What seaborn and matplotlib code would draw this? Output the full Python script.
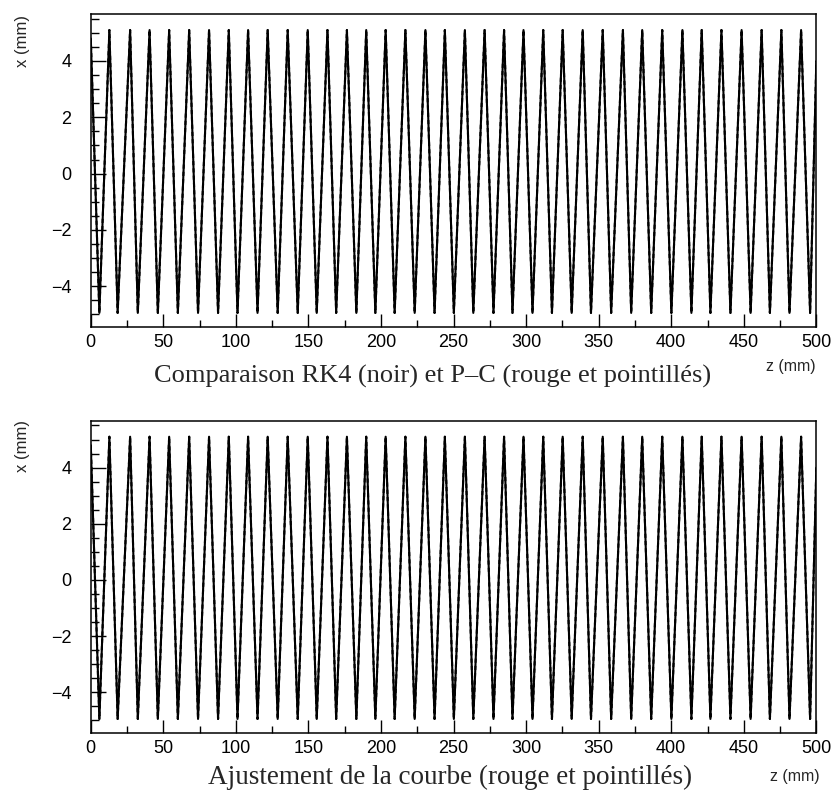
import numpy as np
import pandas as pd
import seaborn as sns
import matplotlib
matplotlib.use("Agg")
import matplotlib.pyplot as plt
from matplotlib.ticker import MultipleLocator

# extrema (z in mm, x in mm)
z_peaks = [12.8, 27.1, 40.5, 54.0, 67.8, 81.5, 95.1, 108.4, 121.9, 135.7, 149.5, 163.1,
           176.5, 189.8, 203.2, 216.8, 230.6, 244.0, 257.8, 271.4, 284.8, 298.2, 311.8, 325.2,
           339.0, 352.8, 366.7, 380.0, 393.8, 407.7, 421.0, 434.6, 448.5, 462.3, 475.9, 489.5]
z_troughs = [5.9, 18.5, 32.4, 46.2, 60.0, 73.9, 87.7, 101.1, 114.9, 128.8, 142.6, 155.7,
             169.1, 183.0, 196.1, 209.4, 223.2, 236.9, 250.2, 263.6, 277.5, 290.6, 304.4, 317.8,
             331.4, 344.7, 358.6, 372.4, 386.2, 400.1, 413.9, 427.0, 440.8, 454.7, 468.0, 481.5, 495.7]
x_peak = 5.1
x_trough = -4.95
z_ends = [0.0, 500.0]
x_ends = [4.8, 4.0]

#build the curve
z = np.array(z_ends + z_peaks + z_troughs)
x = np.array(x_ends + [x_peak] * len(z_peaks) + [x_trough] * len(z_troughs))
df = pd.DataFrame({"z": z, "x": x}).sort_values("z").reset_index(drop=True)

sns.set_style("ticks")
plt.rcParams["font.family"] = ["Liberation Sans", "DejaVu Sans"]

fig = plt.figure(figsize=(8.33, 7.95), dpi=100)
ax1 = fig.add_axes([0.109, 0.5887, 0.871, 0.3937])
ax2 = fig.add_axes([0.109, 0.078, 0.871, 0.3928])

for ax in [ax1, ax2]:
    sns.lineplot(data=df, x="z", y="x", ax=ax, color="black", lw=1.5, sort=False)
    sns.lineplot(data=df, x="z", y="x", ax=ax, color="black", lw=1.5, sort=False,
                 linestyle=(0, (2, 1.5)))
    ax.set_xlim(0, 500)
    ax.set_ylim(-5.45, 5.67)
    ax.set_xlabel("")
    ax.set_ylabel("")
    ax.xaxis.set_major_locator(MultipleLocator(50))
    ax.xaxis.set_minor_locator(MultipleLocator(25))
    ax.yaxis.set_major_locator(MultipleLocator(2))
    ax.yaxis.set_minor_locator(MultipleLocator(0.5))
    ax.tick_params(axis="both", which="both", direction="in", top=False, right=False,
                   width=1, colors="black", labelsize=13)
    ax.tick_params(axis="y", which="major", length=10.5, pad=14)
    ax.tick_params(axis="y", which="minor", length=5.5)
    ax.tick_params(axis="x", which="major", length=9.5, pad=5)
    ax.tick_params(axis="x", which="minor", length=5)
    for s in ax.spines.values():
        s.set_visible(True)
        s.set_linewidth(1.1)
        s.set_color("black")

serif = ["Liberation Serif", "DejaVu Serif"]
fig.text(433 / 833, 1 - 376 / 795, "Comparaison RK4 (noir) et P\u2013C (rouge et pointillés)",
         family=serif, fontsize=19, ha="center", va="center")
fig.text(791 / 833, 1 - 367 / 795, "z (mm)", fontsize=11.5, ha="center", va="center")
fig.text(450 / 833, 1 - 777 / 795, "Ajustement de la courbe (rouge et pointillés)",
         family=serif, fontsize=19.5, ha="center", va="center")
fig.text(795 / 833, 1 - 776 / 795, "z (mm)", fontsize=11.5, ha="center", va="center")

fig.text(22 / 833, 1 - 15 / 795, "x (mm)", fontsize=12, rotation=90, ha="center", va="top")
fig.text(22 / 833, 1 - 420 / 795, "x (mm)", fontsize=12, rotation=90, ha="center", va="top")

fig.savefig("out.png", dpi=100)
